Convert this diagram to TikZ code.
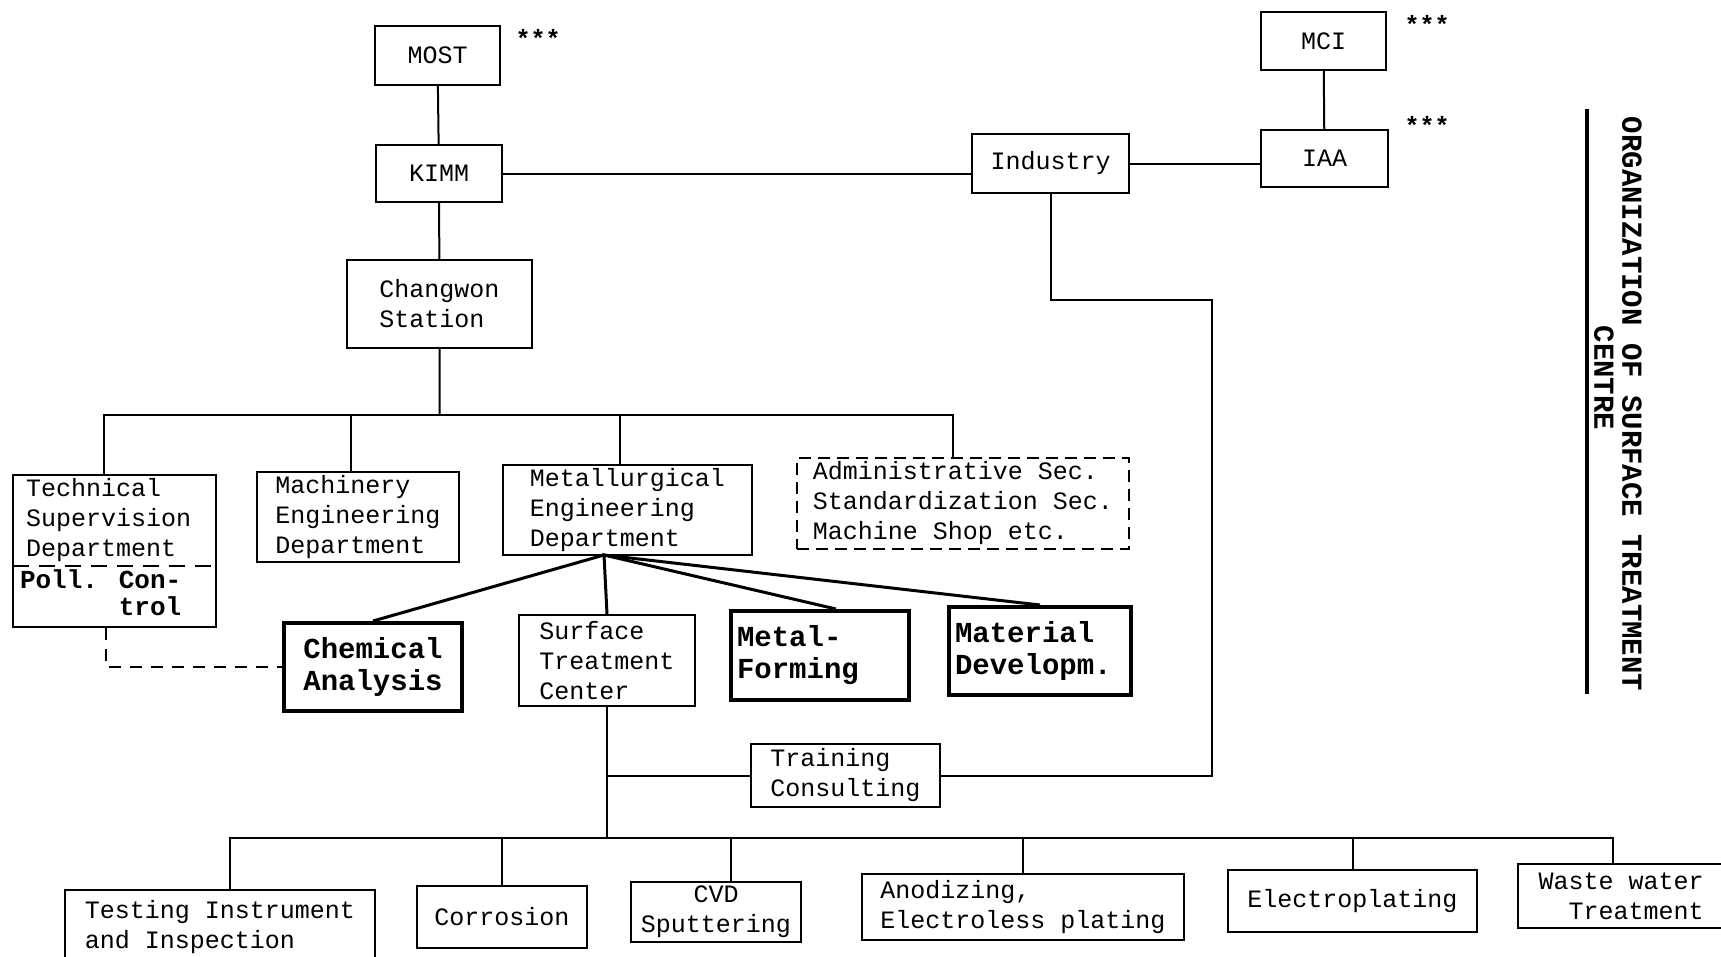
\documentclass[tikz,border=0pt]{standalone}
\usepackage{fontspec}
\newfontfamily\typer{Liberation Mono}
\newcommand\boxfont{\typer\fontsize{25}{30}\selectfont}
\newcommand\boldfont{\typer\bfseries\fontsize{29}{32}\selectfont}

\begin{document}
\begin{tikzpicture}[x=1pt,y=-1pt,line width=2pt,
  org_box/.style={draw,align=left,inner sep=3pt,font=\boxfont},
  bold_box/.style={org_box,line width=4pt,font=\boldfont},
  dash_box/.style={org_box,dash pattern=on 12pt off 7pt},
  plain_txt/.style={align=left,inner sep=3pt,font=\boxfont},
  star_mark/.style={inner sep=0pt,font=\typer\bfseries\fontsize{25}{30}\selectfont},
  title_txt/.style={inner sep=0pt,font=\boldfont}]

    \path[fill=white,use as bounding box] (0,0) rectangle (1721,956);

    % ministries and institute
    \node[org_box,minimum width=125,minimum height=59] (most) at (437.5,55.5) {MOST};
    \node[org_box,minimum width=125,minimum height=58] (mci) at (1323.5,41) {MCI};
    \node[org_box,minimum width=127,minimum height=57] (iaa) at (1324.5,158.5) {IAA};
    \node[org_box,minimum width=126,minimum height=57] (kimm) at (439,173.5) {KIMM};
    \node[org_box,minimum width=157,minimum height=59] (industry) at (1050.5,163.5) {Industry};
    \node[org_box,minimum width=185,minimum height=88] (changwon) at (439.5,304) {Changwon\\Station};
    \node[star_mark] (star1) at (538,38) {***};
    \node[star_mark] (star2) at (1427,24) {***};
    \node[star_mark] (star3) at (1427,125) {***};

    % departments
    \node[org_box,minimum width=203,minimum height=152] (techsup) at (114.5,551) {};
    \node[plain_txt,anchor=north west] (techsup_txt) at (22,474) {Technical\\Supervision\\Department};
    \draw[dash pattern=on 16pt off 10pt] (13,566) -- (216,566);
    \node[title_txt,anchor=north west,align=right,font=\typer\bfseries\fontsize{26}{27}\selectfont] (poll_txt) at (19,569) {Poll. Con-\\trol};
    \node[org_box,minimum width=202,minimum height=90] (machinery) at (358,517) {Machinery\\Engineering\\Department};
    \node[org_box,minimum width=249,minimum height=90] (metallurgy) at (627.5,510) {Metallurgical\\Engineering\\Department};
    \node[dash_box,minimum width=332,minimum height=91] (admin) at (963,503.5) {Administrative Sec.\\Standardization Sec.\\Machine Shop etc.};

    % divisions
    \node[bold_box,minimum width=178,minimum height=88] (chemical) at (373,667) {Chemical\\Analysis};
    \node[org_box,minimum width=176,minimum height=91] (stc) at (607,660.5) {Surface\\Treatment\\Center};
    \node[bold_box,inner xsep=6pt,text width=166,minimum height=89] (forming) at (820,655.5) {Metal-\\Forming};
    \node[bold_box,inner xsep=6pt,text width=170,minimum height=88] (material) at (1040,651) {Material\\Developm.};
    \node[org_box,minimum width=189,minimum height=63] (training) at (845.5,775.5) {Training\\Consulting};

    % laboratories
    \node[org_box,minimum width=310,minimum height=74] (testing) at (220,927) {Testing Instrument\\and Inspection};
    \node[org_box,minimum width=170,minimum height=62] (corrosion) at (502,917) {Corrosion};
    \node[org_box,minimum width=170,minimum height=60,align=center] (cvd) at (716,912) {CVD\\Sputtering};
    \node[org_box,minimum width=322,minimum height=66] (anodizing) at (1023,907) {Anodizing,\\Electroless plating};
    \node[org_box,minimum width=249,minimum height=62] (electro) at (1352.5,901) {Electroplating};
    \node[org_box,minimum width=206,minimum height=64,align=right] (waste) at (1621,896) {Waste water\\Treatment};

    % title
    \node[title_txt,rotate=-90] (title) at (1632,404) {ORGANIZATION OF SURFACE TREATMENT};
    \node[title_txt,rotate=-90] (centre) at (1604,378) {CENTRE};
    \draw[line width=4pt] (1587,109) -- (1587,694);

    \coordinate (dept_bus) at (439.5,415);
    \coordinate (fan) at (604,555);
    \coordinate (ind_corner) at (1212,300);
    \coordinate (lab_bus) at (611,838);

    \draw (most) -- (kimm) -- (changwon) -- (dept_bus);
    \draw (mci) -- (iaa);
    \draw (kimm.east) -- (kimm.east -| industry.west);
    \draw (industry.east) -- (industry.east -| iaa.west);
    \draw ([xshift=-10.5pt]techsup.north) |- ([xshift=-10pt]admin.north |- dept_bus) -- ([xshift=-10pt]admin.north);
    \draw ([xshift=-7pt]machinery.north) -- ([xshift=-7pt]machinery.north |- dept_bus);
    \draw ([xshift=-7.5pt]metallurgy.north) -- ([xshift=-7.5pt]metallurgy.north |- dept_bus);
    \draw[line width=3pt] (chemical.north) -- (fan) -- (material.north);
    \draw[line width=3pt] (stc.north) -- (fan) -- ([xshift=16pt]forming.north);
    \draw[dash pattern=on 12pt off 9pt] ([xshift=-8.5pt]techsup.south) |- (chemical.west);
    \draw (industry.south) |- (ind_corner) |- (training.east);
    \draw (stc.south) -- (stc.south |- lab_bus);
    \draw (stc.south |- training.west) -- (training.west);
    \draw ([xshift=10pt]testing.north) |- ([xshift=-8pt]waste.north |- lab_bus) -- ([xshift=-8pt]waste.north);
    \draw (corrosion.north) -- (corrosion.north |- lab_bus);
    \draw ([xshift=15pt]cvd.north) -- ([xshift=15pt]cvd.north |- lab_bus);
    \draw (anodizing.north) -- (anodizing.north |- lab_bus);
    \draw (electro.north) -- (electro.north |- lab_bus);

\end{tikzpicture}
\end{document}
